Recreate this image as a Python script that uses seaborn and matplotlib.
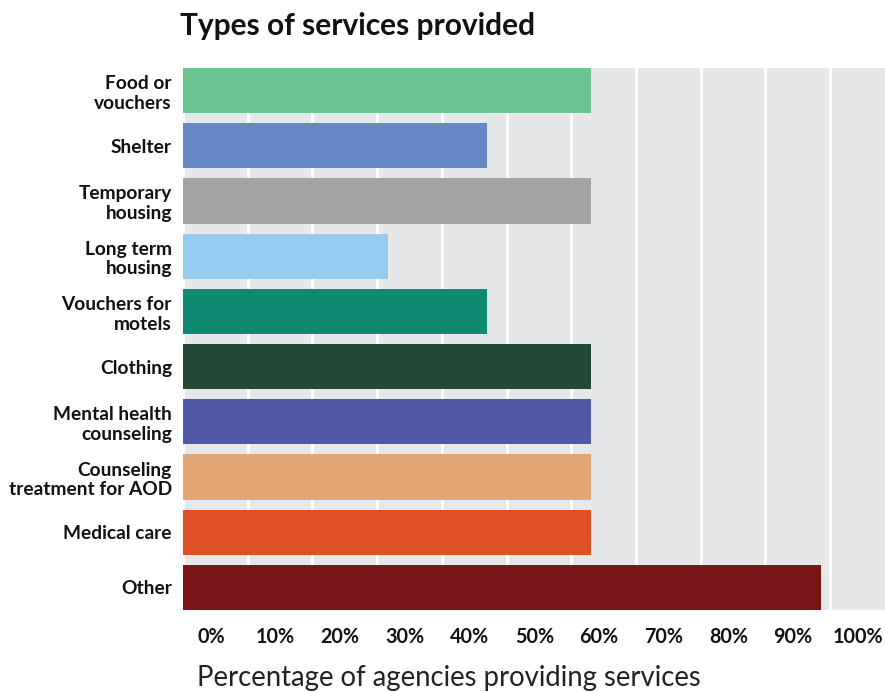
import matplotlib
matplotlib.use("Agg")
import matplotlib.pyplot as plt
import seaborn as sns
import pandas as pd

categories = ["Food or\nvouchers", "Shelter", "Temporary\nhousing", "Long term\nhousing",
              "Vouchers for\nmotels", "Clothing", "Mental health\ncounseling",
              "Counseling\ntreatment for AOD", "Medical care", "Other"]
values = [63, 47, 63, 31.7, 47, 63, 63, 63, 63, 98.6]
colors = ["#6CC490", "#6688C6", "#A3A5A4", "#94CBEE", "#0E8A72",
          "#244A37", "#5059A8", "#E4A574", "#E05026", "#7A1416"]
tick_values = [0, 10, 20, 30, 40, 50, 60, 70, 80, 90, 100]
tick_labels = [f"{v}%" for v in tick_values]
title = "Types of services provided"
xlabel = "Percentage of agencies providing services"

df = pd.DataFrame({"service": categories, "pct": values})

sns.set_theme(style="white")
plt.rcParams["font.family"] = ["Lato", "DejaVu Sans"]

W, H = 885, 692
fig = plt.figure(figsize=(W / 100, H / 100), dpi=100)
ax = fig.add_axes([183 / W, 1 - 610 / H, (885 - 183) / W, (610 - 68) / H])
ax.set_facecolor("#E6E7E9")

sns.barplot(data=df, x="pct", y="service", hue="service", palette=colors,
            legend=False, width=0.818, saturation=1, ax=ax, orient="h",
            linewidth=0, zorder=3)

ax.set_xlim(0, 108.5)
ax.set_ylim(9.409, -0.409)
ax.set_xticks(tick_values)
ax.set_xticklabels([])
ax.tick_params(axis="x", which="major", length=0)
ax.set_xticks([v + 4.3 for v in tick_values], minor=True)
ax.set_xticklabels(tick_labels, minor=True, fontweight="bold", fontsize=14.2, color="#111111")
ax.tick_params(axis="x", which="minor", length=0, pad=12)
ax.grid(axis="x", which="major", color="white", linewidth=2, zorder=1)
ax.set_axisbelow(True)
ax.tick_params(axis="y", length=0, pad=8)
for lbl in ax.get_yticklabels():
    lbl.set_fontweight("bold")
    lbl.set_fontsize(13.8)
    lbl.set_color("#111111")
    lbl.set_linespacing(1.2)
ax.set_xlabel("")
ax.set_ylabel("")
for s in ax.spines.values():
    s.set_visible(False)

fig.text(180 / W, 1 - 26 / H, title, fontsize=21.5, fontweight="bold",
         ha="left", va="center", color="#111111")
fig.text(197 / W, 1 - 678 / H, xlabel, fontsize=19.8, ha="left", va="center",
         color="#222222")

fig.savefig("out.png", dpi=100)
